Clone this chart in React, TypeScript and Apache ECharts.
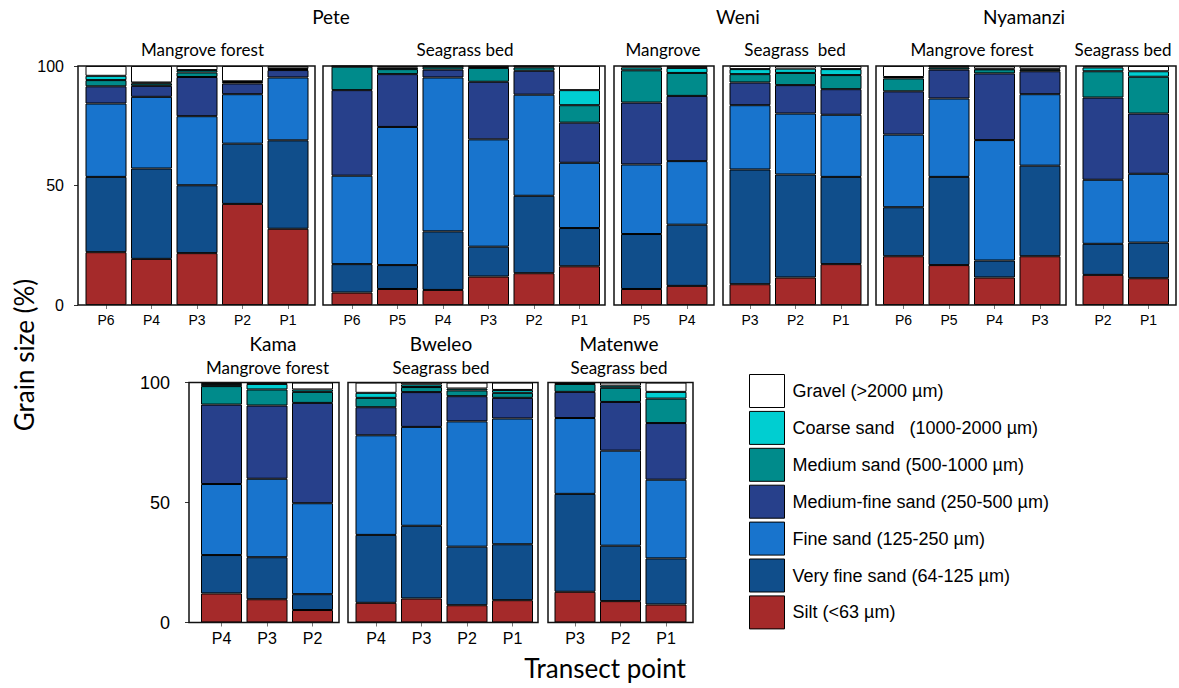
import { useEffect, useRef } from "react";
import * as echarts from "echarts";

const classNames = [
  "Silt (<63 µm)",
  "Very fine sand (64-125 µm)",
  "Fine sand (125-250 µm)",
  "Medium-fine sand (250-500 µm)",
  "Medium sand (500-1000 µm)",
  "Coarse sand   (1000-2000 µm)",
  "Gravel (>2000 µm)",
];
const classColors = ["#A52A2A", "#104E8B", "#1874CD", "#27408B", "#008B8B", "#00CED1", "#FFFFFF"];

// rows: silt, very fine, fine, medium-fine, medium, coarse, gravel
const peteMangroveX = ["P6", "P4", "P3", "P2", "P1"];
const peteMangrove = [
  [22.1, 19.3, 21.7, 42.3, 31.9],
  [31.5, 37.8, 28.4, 25.2, 37.0],
  [30.7, 30.0, 28.9, 20.7, 26.3],
  [7.2, 4.6, 16.4, 4.5, 3.1],
  [2.6, 1.0, 1.9, 0.6, 0.4],
  [1.8, 0.4, 1.0, 0.3, 0.3],
  [4.1, 6.9, 1.7, 6.4, 1.0],
];
const peteSeagrassX = ["P6", "P5", "P4", "P3", "P2", "P1"];
const peteSeagrass = [
  [5.2, 6.7, 6.3, 11.9, 13.3, 16.2],
  [11.9, 10.0, 24.5, 12.5, 32.4, 16.0],
  [37.0, 57.8, 64.4, 44.9, 42.3, 27.3],
  [35.8, 22.1, 3.3, 24.1, 10.0, 16.8],
  [9.8, 2.1, 1.2, 5.8, 1.4, 7.3],
  [0.2, 0.7, 0.2, 0.5, 0.5, 6.3],
  [0.1, 0.6, 0.1, 0.3, 0.1, 10.1],
];
const weniMangroveX = ["P5", "P4"];
const weniMangrove = [
  [6.7, 8.0],
  [23.0, 25.6],
  [29.1, 26.6],
  [25.9, 27.3],
  [13.5, 9.6],
  [1.2, 2.1],
  [0.6, 0.8],
];
const weniSeagrassX = ["P3", "P2", "P1"];
const weniSeagrass = [
  [8.7, 11.5, 17.1],
  [48.0, 43.1, 36.5],
  [26.9, 25.5, 26.0],
  [9.5, 11.9, 10.7],
  [3.5, 5.1, 5.9],
  [2.1, 1.8, 2.5],
  [1.3, 1.1, 1.3],
];
const nyamanziMangroveX = ["P6", "P5", "P4", "P3"];
const nyamanziMangrove = [
  [20.4, 16.7, 11.5, 20.4],
  [20.5, 36.9, 7.1, 37.9],
  [30.4, 32.8, 50.4, 29.9],
  [18.1, 12.1, 27.9, 9.6],
  [5.4, 0.9, 1.7, 0.7],
  [0.6, 0.5, 0.3, 0.4],
  [4.6, 0.1, 1.1, 1.1],
];
const nyamanziSeagrassX = ["P2", "P1"];
const nyamanziSeagrass = [
  [12.6, 11.2],
  [13.0, 14.9],
  [26.8, 28.8],
  [34.4, 25.2],
  [11.0, 15.4],
  [1.6, 2.3],
  [0.6, 2.2],
];
const kamaX = ["P4", "P3", "P2"];
const kama = [
  [12.1, 9.7, 5.2],
  [16.0, 17.5, 6.6],
  [29.6, 32.7, 37.9],
  [33.1, 30.5, 41.8],
  [7.7, 6.7, 4.6],
  [0.9, 2.3, 1.0],
  [0.6, 0.6, 2.9],
];
const bweleoX = ["P4", "P3", "P2", "P1"];
const bweleo = [
  [8.2, 10.0, 7.2, 9.3],
  [28.3, 30.3, 24.4, 23.3],
  [41.5, 41.2, 52.2, 52.4],
  [11.7, 14.5, 10.5, 8.6],
  [3.9, 2.1, 2.4, 2.1],
  [2.1, 1.1, 0.8, 1.2],
  [4.3, 0.8, 2.5, 3.1],
];
const matenweX = ["P3", "P2", "P1"];
const matenwe = [
  [12.8, 8.9, 7.5],
  [40.8, 23.1, 19.2],
  [31.6, 39.6, 32.8],
  [10.9, 20.3, 23.6],
  [3.3, 5.9, 10.2],
  [0.3, 0.9, 2.8],
  [0.3, 1.3, 3.9],
];

const yTicks = [0, 50, 100];

// layout: frame edges, first band left, row
const TOP = { top: 66, height: 239, xFont: 14, yFont: 16, yMargin: 14 };
const BOT = { top: 382.5, height: 240, xFont: 16, yFont: 18, yMargin: 19 };
const STEP = 45.5;

const panels = [
  { x: peteMangroveX, v: peteMangrove, frame: [78, 315], left: 83.25, row: TOP, yAxis: true },
  { x: peteSeagrassX, v: peteSeagrass, frame: [323, 605], left: 329.25, row: TOP, yAxis: false },
  { x: weniMangroveX, v: weniMangrove, frame: [614, 714], left: 618.75, row: TOP, yAxis: false },
  { x: weniSeagrassX, v: weniSeagrass, frame: [723, 868], left: 727.25, row: TOP, yAxis: false },
  { x: nyamanziMangroveX, v: nyamanziMangrove, frame: [876, 1066], left: 880.75, row: TOP, yAxis: false },
  { x: nyamanziSeagrassX, v: nyamanziSeagrass, frame: [1076, 1176], left: 1080.25, row: TOP, yAxis: false },
  { x: kamaX, v: kama, frame: [189, 339], left: 198.75, row: BOT, yAxis: true },
  { x: bweleoX, v: bweleo, frame: [348, 538], left: 353.25, row: BOT, yAxis: false },
  { x: matenweX, v: matenwe, frame: [548, 693], left: 552.25, row: BOT, yAxis: false },
];

const titles = [
  { t: "Pete", x: 331, y: 16, s: 19 },
  { t: "Weni", x: 738, y: 16, s: 19 },
  { t: "Nyamanzi", x: 1024, y: 16, s: 19 },
  { t: "Mangrove forest", x: 202.5, y: 49, s: 17 },
  { t: "Seagrass bed", x: 465, y: 49, s: 17 },
  { t: "Mangrove", x: 663, y: 49, s: 17 },
  { t: "Seagrass  bed", x: 795, y: 49, s: 17 },
  { t: "Mangrove forest", x: 972, y: 49, s: 17 },
  { t: "Seagrass bed", x: 1123, y: 49, s: 17 },
  { t: "Kama", x: 273, y: 343, s: 19 },
  { t: "Mangrove forest", x: 267.5, y: 367, s: 17 },
  { t: "Bweleo", x: 441, y: 343, s: 19 },
  { t: "Seagrass bed", x: 441, y: 367, s: 17 },
  { t: "Matenwe", x: 619, y: 343, s: 19 },
  { t: "Seagrass bed", x: 619, y: 367, s: 17 },
];

const TITLE_FONT = "Lato, 'Open Sans', sans-serif";
const TICK_FONT = "'Liberation Sans', Arial, sans-serif";

export default function App() {
  const ref = useRef<HTMLDivElement>(null);
  useEffect(() => {
    if (!ref.current) return;
    const chart = echarts.init(ref.current, undefined, { renderer: "svg" });
    const grid: any[] = [];
    const xAxis: any[] = [];
    const yAxis: any[] = [];
    const series: any[] = [];
    const graphic: any[] = [];

    panels.forEach((p, i) => {
      const n = p.x.length;
      grid.push({ left: p.left, top: p.row.top, width: n * STEP, height: p.row.height, containLabel: false });
      xAxis.push({
        type: "category",
        gridIndex: i,
        data: p.x,
        axisLine: { show: false },
        axisTick: { show: true, alignWithLabel: true, length: 4, lineStyle: { color: "#777" } },
        axisLabel: { fontSize: p.row.xFont, color: "#000", fontFamily: TICK_FONT, margin: 8 },
        splitLine: { show: false },
      });
      yAxis.push({
        type: "value",
        gridIndex: i,
        min: 0,
        max: 100,
        interval: 50,
        show: p.yAxis,
        offset: p.left - p.frame[0],
        axisLine: { show: false },
        axisTick: { show: true, length: 4, lineStyle: { color: "#333" } },
        axisLabel: {
          fontSize: p.row.yFont,
          color: "#000",
          fontFamily: TICK_FONT,
          margin: p.row.yMargin,
          customValues: yTicks,
        },
        splitLine: { show: false },
      });
      classNames.forEach((name, c) => {
        series.push({
          type: "bar",
          name,
          xAxisIndex: i,
          yAxisIndex: i,
          stack: "s" + i,
          barWidth: 41,
          data: p.v[c],
          itemStyle: { color: classColors[c], borderColor: "#000", borderWidth: 1 },
          emphasis: { disabled: true },
        });
      });
      graphic.push({
        type: "rect",
        z: 100,
        shape: { x: p.frame[0], y: p.row.top, width: p.frame[1] - p.frame[0], height: p.row.height },
        style: { fill: "none", stroke: "#111", lineWidth: 1.5 },
        silent: true,
      });
    });

    titles.forEach((t) => {
      graphic.push({
        type: "text",
        x: t.x,
        y: t.y,
        style: {
          text: t.t,
          font: `${t.s}px ${TITLE_FONT}`,
          fill: "#000",
          textAlign: "center",
          textVerticalAlign: "middle",
          align: "center",
          verticalAlign: "middle",
        },
      });
    });
    graphic.push({
      type: "text",
      x: 24,
      y: 355,
      rotation: Math.PI / 2,
      style: {
        text: "Grain size (%)",
        font: `26px ${TITLE_FONT}`,
        fill: "#000",
        textAlign: "center",
        textVerticalAlign: "middle",
        align: "center",
        verticalAlign: "middle",
      },
    });
    graphic.push({
      type: "text",
      x: 605,
      y: 668,
      style: {
        text: "Transect point",
        font: `26px ${TITLE_FONT}`,
        fill: "#000",
        textAlign: "center",
        textVerticalAlign: "middle",
        align: "center",
        verticalAlign: "middle",
      },
    });

    chart.setOption({
      animation: false,
      backgroundColor: "#fff",
      grid,
      xAxis,
      yAxis,
      series,
      graphic,
      legend: {
        orient: "vertical",
        left: 744,
        top: 369,
        itemWidth: 35,
        itemHeight: 33,
        itemGap: 2.9,
        icon: "rect",
        selectedMode: false,
        data: [...classNames].reverse(),
        textStyle: { fontSize: 18, color: "#000", fontFamily: TICK_FONT, padding: [0, 0, 0, 3] },
        itemStyle: { borderColor: "#000", borderWidth: 1 },
      },
    });
    return () => chart.dispose();
  }, []);
  return (
    <div
      ref={ref}
      style={{ position: "absolute", left: 0, top: 0, width: 1179, height: 688, background: "#fff" }}
    />
  );
}
